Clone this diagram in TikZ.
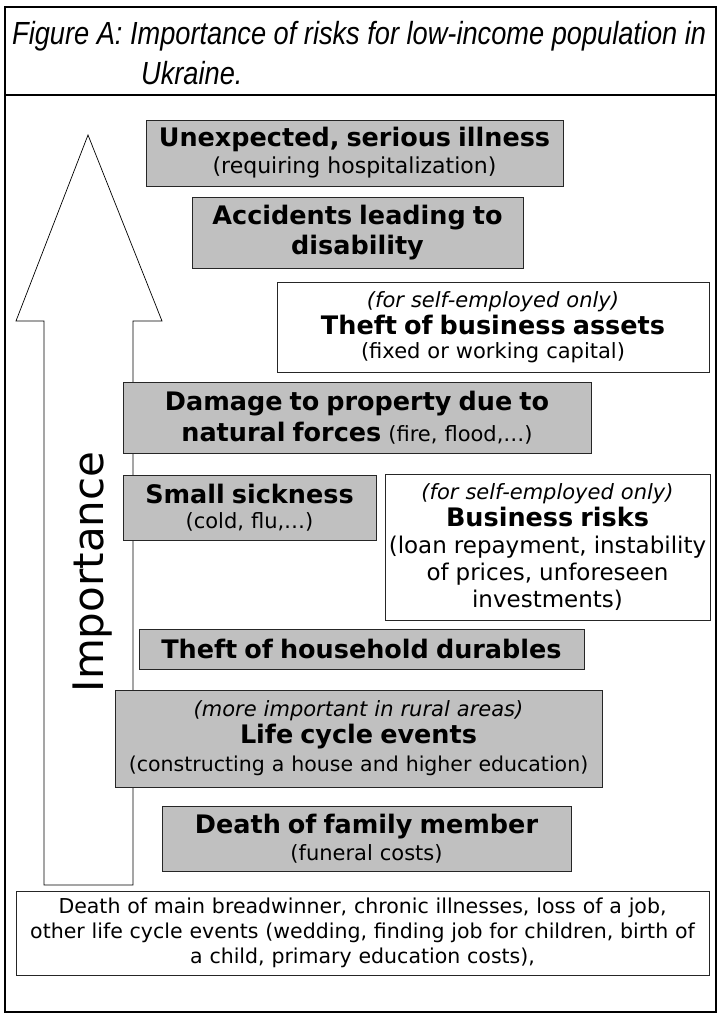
\documentclass[tikz,border=0pt]{standalone}
\usepackage{fontspec}
\setmainfont[WordSpace=1.35]{DejaVu Sans}
\newfontfamily\plainfont{DejaVu Sans}
\newfontfamily\titlefont[FakeStretch=0.85]{Liberation Sans}
\definecolor{boxgrey}{RGB}{192,192,192}
\newcommand\riskhead{\fontsize{25.5pt}{27pt}\selectfont\bfseries\upshape}
\newcommand\risksub[1][21]{\fontsize{#1pt}{27pt}\selectfont\mdseries\upshape}
\newcommand\risknote{\fontsize{21pt}{27pt}\selectfont\mdseries\itshape}

\begin{document}
\begin{tikzpicture}[x=1pt,y=-1pt]
\tikzset{
  riskbox/.style={draw=black!85, fill=boxgrey, line width=0.8pt, align=center, inner sep=0pt, font=\fontsize{21pt}{27pt}\selectfont},
  selfbox/.style={riskbox, fill=white},
  rowsep/.style={font=\fontsize{21pt}{#1pt}\selectfont},
  frame/.style={line width=2pt}
}
\useasboundingbox (0,0) rectangle (723,1015);
% outer frame and title
\draw [frame] (5,7) rectangle (716,1012);
\draw [frame] (5,95) -- (716,95);
\node [anchor=base west, align=left, inner sep=0pt, font=\titlefont\itshape\fontsize{32pt}{40pt}\selectfont] (title) at (12,84) {Figure A: Importance of risks for low-income population in\\\hspace*{129pt}Ukraine.};
% importance arrow
\draw [line width=0.7pt, fill=white] (88,135) -- (162,321) -- (133,321) -- (133,885) -- (44,885) -- (44,321) -- (16,321) -- cycle;
\node [rotate=90, anchor=base, inner sep=0pt, font=\plainfont\fontsize{42pt}{42pt}\selectfont] (importance) at (103,572) {Importance};
% risks
\node [riskbox, minimum width=417pt, minimum height=66pt, text width=413pt] (illness) at (354.5,153) {\riskhead Unexpected, serious illness\\\risksub[22] (requiring hospitalization)};
\node [riskbox, rowsep=30, minimum width=331pt, minimum height=71pt, text width=327pt] (disability) at (357.5,232.5) {\riskhead Accidents leading to\\disability};
\node [selfbox, rowsep=24, minimum width=432pt, minimum height=90pt, text width=428pt] (assets) at (493,327) {\risknote (for self-employed only)\\\riskhead Theft of business assets\\\risksub (fixed or working capital)};
\node [riskbox, rowsep=31, minimum width=468pt, minimum height=71pt, text width=464pt] (damage) at (357,417.5) {\riskhead Damage to property due to\\natural forces {\risksub (fire, flood,\ldots)}};
\node [riskbox, rowsep=25, minimum width=253pt, minimum height=65pt, text width=249pt] (sickness) at (249.5,507.5) {\riskhead Small sickness\\\risksub (cold, flu,\ldots)};
\node [selfbox, minimum width=325pt, minimum height=146pt, text width=321pt] (business) at (547.5,547) {\risknote (for self-employed only)\\\riskhead Business risks\\\risksub[23] (loan repayment, instability\\of prices, unforeseen\\investments)};
\node [riskbox, minimum width=445pt, minimum height=40pt, text width=441pt] (durables) at (361.5,649) {\riskhead Theft of household durables};
\node [riskbox, rowsep=28, minimum width=487pt, minimum height=97pt, text width=485pt] (lifecycle) at (358.5,738.5) {\risknote (more important in rural areas)\\\riskhead Life cycle events\\\risksub[20.5] (constructing a house and higher education)};
\node [riskbox, minimum width=409pt, minimum height=65pt, text width=405pt] (death) at (366.5,838.5) {\riskhead Death of family member\\\risksub (funeral costs)};
\node [selfbox, minimum width=693pt, minimum height=84pt, text width=689pt, font=\plainfont\fontsize{20.5pt}{25pt}\selectfont] (other) at (362.5,933) {Death of main breadwinner, chronic illnesses, loss of a job,\\other life cycle events (wedding, finding job for children, birth of\\a child, primary education costs),};
\end{tikzpicture}
\end{document}
